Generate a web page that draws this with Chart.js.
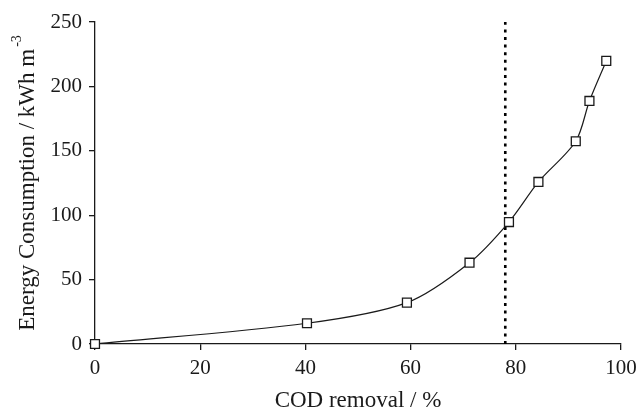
<!DOCTYPE html>
<html>
<head>
<meta charset="utf-8">
<script src="https://cdn.jsdelivr.net/npm/chart.js@4/dist/chart.umd.min.js"></script>
<style>
html,body{margin:0;padding:0;background:#fff;}
#wrap{width:638px;height:408px;position:relative;}
</style>
</head>
<body>
<div id="wrap"><canvas id="c"></canvas></div>
<script>
const codRemoval = [0, 40.3, 59.3, 71.2, 78.7, 84.3, 91.4, 94.0, 97.2];
const energy = [0, 16.1, 32.1, 63.1, 94.7, 125.8, 157.4, 188.7, 219.8];
const markerX = 78;
const xTicks = [0, 20, 40, 60, 80, 100];
const yTicks = [0, 50, 100, 150, 200, 250];
const xTitle = 'COD removal / %';
const yTitleMain = 'Energy Consumption / kWh m';
const yTitleSup = '-3';

const FONT = "'Liberation Serif', 'Times New Roman', serif";
const INK = '#1a1a1a';

const yTitlePlugin = {
  id: 'yTitle',
  afterDraw(chart) {
    const ctx = chart.ctx;
    const area = chart.chartArea;
    ctx.save();
    ctx.fillStyle = INK;
    const mainFont = '23px ' + FONT;
    const supFont = '14px ' + FONT;
    ctx.font = mainFont;
    const wMain = ctx.measureText(yTitleMain).width;
    ctx.font = supFont;
    const wSup = ctx.measureText(yTitleSup).width;
    const total = wMain + wSup + 2;
    const cx = 34;
    const cy = (area.top + area.bottom) / 2;
    ctx.translate(cx, cy);
    ctx.rotate(-Math.PI / 2);
    ctx.textBaseline = 'alphabetic';
    ctx.textAlign = 'left';
    ctx.font = mainFont;
    ctx.fillText(yTitleMain, -total / 2, 0);
    ctx.font = supFont;
    ctx.fillText(yTitleSup, -total / 2 + wMain + 2, -13);
    ctx.restore();
  }
};

new Chart(document.getElementById('c'), {
  type: 'scatter',
  data: {
    datasets: [
      {
        data: codRemoval.map((x, i) => ({ x: x, y: energy[i] })),
        showLine: true,
        tension: 0.3,
        borderColor: INK,
        borderWidth: 1.2,
        pointStyle: 'rect',
        pointRadius: 6.3,
        pointBackgroundColor: '#fff',
        pointBorderColor: INK,
        pointBorderWidth: 1.3,
        clip: false,
        order: 1
      },
      {
        data: [{ x: markerX, y: 0 }, { x: markerX, y: yTicks[yTicks.length - 1] }],
        showLine: true,
        borderColor: '#000',
        borderWidth: 2.6,
        borderDash: [3, 4.6],
        pointRadius: 0,
        order: 2
      }
    ]
  },
  options: {
    responsive: true,
    maintainAspectRatio: false,
    animation: false,
    layout: { padding: { top: 22, right: 17, left: 0, bottom: 0 } },
    plugins: { legend: { display: false }, tooltip: { enabled: false } },
    scales: {
      x: {
        type: 'linear',
        min: xTicks[0],
        max: xTicks[xTicks.length - 1],
        afterBuildTicks(scale) { scale.ticks = xTicks.map(v => ({ value: v })); },
        afterFit(scale) { scale.height = 64; scale.paddingLeft = 0; scale.paddingRight = 0; },
        border: { display: true, color: INK, width: 1.3 },
        grid: { display: true, drawOnChartArea: false, drawTicks: true, tickLength: 6, color: INK, lineWidth: 1.3 },
        ticks: { color: INK, font: { family: FONT, size: 21 }, padding: 6, maxRotation: 0 },
        title: { display: true, text: xTitle, color: INK, font: { family: FONT, size: 23 }, padding: { top: 0, bottom: -7 } }
      },
      y: {
        type: 'linear',
        min: yTicks[0],
        max: yTicks[yTicks.length - 1],
        afterBuildTicks(scale) { scale.ticks = yTicks.map(v => ({ value: v })); },
        afterFit(scale) { scale.width = 95; },
        border: { display: true, color: INK, width: 1.3 },
        grid: { display: true, drawOnChartArea: false, drawTicks: true, tickLength: 6, color: INK, lineWidth: 1.3 },
        ticks: { color: INK, font: { family: FONT, size: 21 }, padding: 7 }
      }
    }
  },
  plugins: [yTitlePlugin]
});
</script>
</body>
</html>
